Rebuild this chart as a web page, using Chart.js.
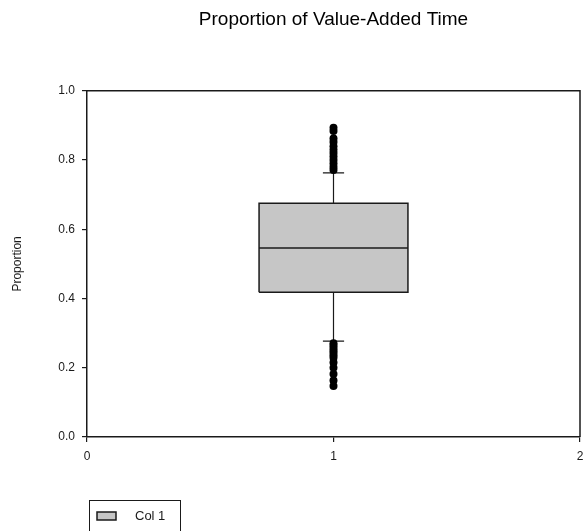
<!DOCTYPE html>
<html>
<head>
<meta charset="utf-8">
<script src="https://cdn.jsdelivr.net/npm/chart.js@4/dist/chart.umd.min.js"></script>
<style>
  html, body { margin: 0; padding: 0; background: #fff; }
  #wrap { width: 584px; height: 531px; position: relative; }
</style>
</head>
<body>
<div id="wrap"><canvas id="c" width="584" height="531"></canvas></div>
<script>
// ---- data ----
const categories = ['Col 1'];
const categoryPositions = [1];
const q1Values = [0.418];
const medianValues = [0.546];
const q3Values = [0.675];
const whiskerLowValues = [0.277];
const whiskerHighValues = [0.763];
const outliersHigh = [0.893, 0.884, 0.862, 0.852, 0.840, 0.830, 0.820, 0.810, 0.800, 0.790, 0.780, 0.771];
const outliersLow = [0.271, 0.264, 0.257, 0.250, 0.243, 0.236, 0.229, 0.215, 0.200, 0.182, 0.163, 0.147];
const xTickValues = [0, 1, 2];
const yTickValues = [0, 0.2, 0.4, 0.6, 0.8, 1.0];

const TITLE = 'Proportion of Value-Added Time';
const Y_TITLE = 'Proportion';
const BOX_HALF = 0.302;  // half box width in x units
const CAP_HALF = 0.043;  // half whisker-cap width in x units

const FONT = '"Liberation Sans", Arial, sans-serif';
const INK = '#1a1a1a';
const BOX_FILL = '#c6c6c6';

// build datasets from arrays
const boxData = [], medianData = [], whiskerData = [], outlierData = [];
categoryPositions.forEach((x, i) => {
  const a = q1Values[i], b = q3Values[i];
  boxData.push({x: x - BOX_HALF, y: a}, {x: x + BOX_HALF, y: a}, {x: x + BOX_HALF, y: b}, {x: x - BOX_HALF, y: b}, {x: x - BOX_HALF, y: a});
  medianData.push({x: x - BOX_HALF, y: medianValues[i]}, {x: x + BOX_HALF, y: medianValues[i]});
  whiskerData.push(
    {x: x, y: q3Values[i]}, {x: x, y: whiskerHighValues[i]}, {x: x, y: null},
    {x: x - CAP_HALF, y: whiskerHighValues[i]}, {x: x + CAP_HALF, y: whiskerHighValues[i]}, {x: x, y: null},
    {x: x, y: q1Values[i]}, {x: x, y: whiskerLowValues[i]}, {x: x, y: null},
    {x: x - CAP_HALF, y: whiskerLowValues[i]}, {x: x + CAP_HALF, y: whiskerLowValues[i]}
  );
  outliersHigh.forEach(v => outlierData.push({x: x, y: v}));
  outliersLow.forEach(v => outlierData.push({x: x, y: v}));
});

// plot frame (top/right border) and boxed legend
const framePlugin = {
  id: 'frame',
  afterDatasetsDraw(chart) {
    const {ctx, chartArea: a} = chart;
    ctx.save();
    ctx.strokeStyle = INK;
    ctx.lineWidth = 1.5;
    ctx.beginPath();
    ctx.moveTo(a.left, a.top);
    ctx.lineTo(a.right, a.top);
    ctx.lineTo(a.right, a.bottom);
    ctx.stroke();
    ctx.restore();
  },
  afterDraw(chart) {
    const {ctx, chartArea: a} = chart;
    const ds = chart.data.datasets[0];
    const L = a.left + 2, T = a.bottom + 63, W = 91, H = 34;
    ctx.save();
    ctx.strokeStyle = INK;
    ctx.lineWidth = 1;
    ctx.strokeRect(L + 0.5, T + 0.5, W, H);
    ctx.fillStyle = ds.backgroundColor;
    ctx.fillRect(L + 8, T + 12, 19, 8);
    ctx.lineWidth = 1.5;
    ctx.strokeRect(L + 8, T + 12, 19, 8);
    ctx.fillStyle = INK;
    ctx.font = '13px ' + FONT;
    ctx.textBaseline = 'middle';
    ctx.textAlign = 'left';
    ctx.fillText(ds.label, L + 46, T + 16);
    ctx.restore();
  }
};

new Chart(document.getElementById('c'), {
  type: 'scatter',
  data: {
    datasets: [
      {
        label: categories[0], data: boxData, showLine: true, fill: 'shape',
        backgroundColor: BOX_FILL, borderColor: INK, borderWidth: 1.5,
        pointRadius: 0, tension: 0, order: 3
      },
      {
        label: 'median', data: medianData, showLine: true, fill: false,
        borderColor: INK, borderWidth: 1.5, pointRadius: 0, order: 2
      },
      {
        label: 'whiskers', data: whiskerData, showLine: true, fill: false, spanGaps: false,
        borderColor: INK, borderWidth: 1.2, pointRadius: 0, order: 2
      },
      {
        label: 'outliers', data: outlierData, showLine: false,
        pointStyle: 'circle', pointRadius: 4, backgroundColor: '#000', borderColor: '#000',
        borderWidth: 0, order: 1
      }
    ]
  },
  options: {
    responsive: false,
    animation: false,
    events: [],
    layout: { padding: { left: 0, right: 0, top: 0, bottom: 64 } },
    plugins: {
      legend: { display: false },
      tooltip: { enabled: false },
      title: {
        display: true, text: TITLE, fullSize: false, color: '#000',
        font: { family: FONT, size: 19, weight: 'normal' },
        padding: { top: 8, bottom: 60 }
      }
    },
    scales: {
      x: {
        type: 'linear', min: 0, max: 2,
        afterBuildTicks(s) { s.ticks = xTickValues.map(v => ({value: v})); },
        afterFit(s) { s.height = 30; s.paddingRight = 3; s.paddingLeft = 0; },
        ticks: { color: INK, padding: 7, font: { family: FONT, size: 12 }, callback: v => String(v), maxRotation: 0 },
        grid: { drawOnChartArea: false, drawTicks: true, tickLength: 5, color: INK, lineWidth: 1.2 },
        border: { display: true, color: INK, width: 1.5 }
      },
      y: {
        type: 'linear', min: 0, max: 1,
        afterBuildTicks(s) { s.ticks = yTickValues.map(v => ({value: v})); },
        afterFit(s) { s.width = 87; },
        ticks: { color: INK, padding: 7, font: { family: FONT, size: 12 }, callback: v => Number(v).toFixed(1) },
        grid: { drawOnChartArea: false, drawTicks: true, tickLength: 5, color: INK, lineWidth: 1.2 },
        border: { display: true, color: INK, width: 1.5 },
        title: { display: true, text: Y_TITLE, color: INK, font: { family: FONT, size: 12 }, padding: { top: 10, bottom: 0 } }
      }
    }
  },
  plugins: [framePlugin]
});
</script>
</body>
</html>
